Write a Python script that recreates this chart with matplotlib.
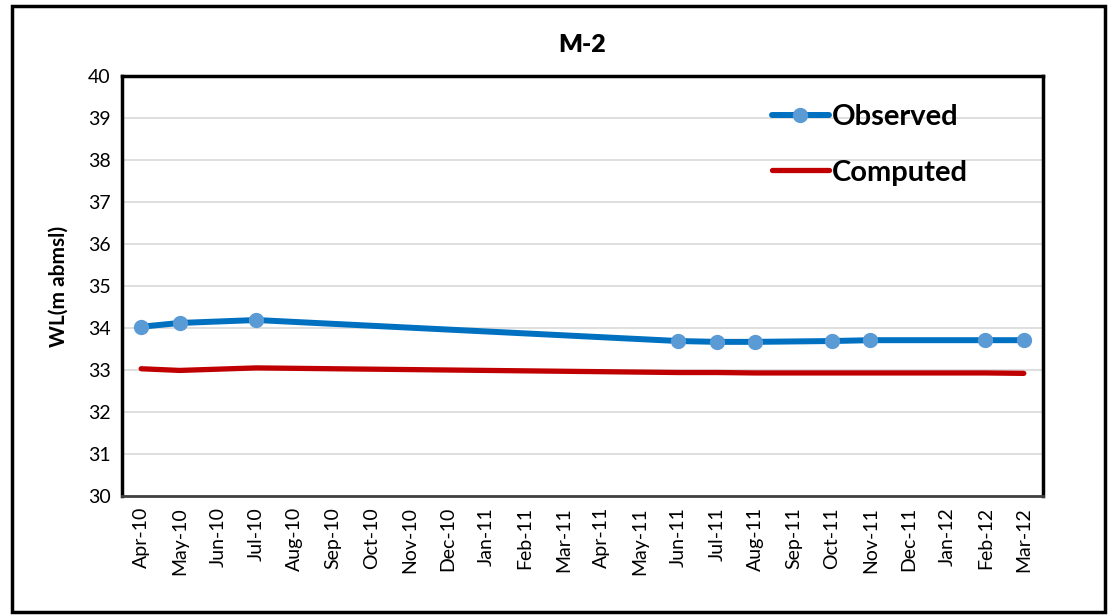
import matplotlib
matplotlib.use("Agg")
import matplotlib.pyplot as plt
from matplotlib.patches import Rectangle

plt.rcParams["font.family"] = ["Lato", "DejaVu Sans"]

MONTHS = [
    "Apr-10", "May-10", "Jun-10", "Jul-10", "Aug-10", "Sep-10", "Oct-10", "Nov-10",
    "Dec-10", "Jan-11", "Feb-11", "Mar-11", "Apr-11", "May-11", "Jun-11", "Jul-11",
    "Aug-11", "Sep-11", "Oct-11", "Nov-11", "Dec-11", "Jan-12", "Feb-12", "Mar-12",
]

# observed water level (sparse survey dates)
obs_months = ["Apr-10", "May-10", "Jul-10", "Jun-11", "Jul-11", "Aug-11",
              "Oct-11", "Nov-11", "Feb-12", "Mar-12"]
obs_wl = [34.03, 34.12, 34.19, 33.69, 33.67, 33.67, 33.69, 33.71, 33.71, 33.71]

# computed water level, monthly
comp_wl = [33.03, 32.99, 33.02, 33.05, 33.04, 33.03, 33.02, 33.01, 33.00, 32.99,
           32.98, 32.97, 32.96, 32.95, 32.94, 32.94, 32.93, 32.93, 32.93, 32.93,
           32.93, 32.93, 32.93, 32.92]

BLUE = "#0070C0"
BLUE_MARK = "#5B9BD5"
RED = "#C00000"


def main() -> None:
    fig = plt.figure(figsize=(11.13, 6.16), dpi=100)
    ax = fig.add_axes([0.1096, 0.1948, 0.8275, 0.6818])

    x_all = list(range(len(MONTHS)))
    x_obs = [MONTHS.index(m) for m in obs_months]

    ax.plot(x_obs, obs_wl, color=BLUE, lw=4.3, marker="o", markersize=10,
            markerfacecolor=BLUE_MARK, markeredgecolor=BLUE_MARK,
            label="Observed", solid_capstyle="round", zorder=3)
    ax.plot(x_all, comp_wl, color=RED, lw=3.8, label="Computed",
            solid_capstyle="round", zorder=3)

    ax.set_xlim(-0.5, len(MONTHS) - 0.5)
    ax.set_ylim(30, 40)
    ax.set_yticks(range(30, 41))
    ax.set_xticks(x_all)
    ax.set_xticklabels(MONTHS, rotation=90)
    ax.tick_params(axis="both", labelsize=14, length=0, pad=8)
    ax.grid(axis="y", color="#D9D9D9", lw=1.2, zorder=0)
    ax.set_axisbelow(True)

    for side in ["left", "top", "right"]:
        ax.spines[side].set_linewidth(2.5)
        ax.spines[side].set_color("black")
    ax.spines["bottom"].set_linewidth(2.0)
    ax.spines["bottom"].set_color("#404040")

    ax.set_ylabel("WL(m abmsl)", fontsize=15, fontweight="bold", labelpad=14)
    ax.set_title("M-2", fontsize=18, fontweight="heavy", pad=17)

    ax.legend(loc="upper left", bbox_to_anchor=(0.677, 0.995), frameon=False,
              prop={"weight": "bold", "size": 21},
              handlelength=1.95, handletextpad=0.1, labelspacing=1.0)

    fig.add_artist(Rectangle((0.0105, 0.007), 0.9825, 0.983, transform=fig.transFigure,
                             fill=False, lw=2.5, edgecolor="black"))

    fig.savefig("out.png", dpi=100)
    plt.close(fig)


if __name__ == "__main__":
    main()
